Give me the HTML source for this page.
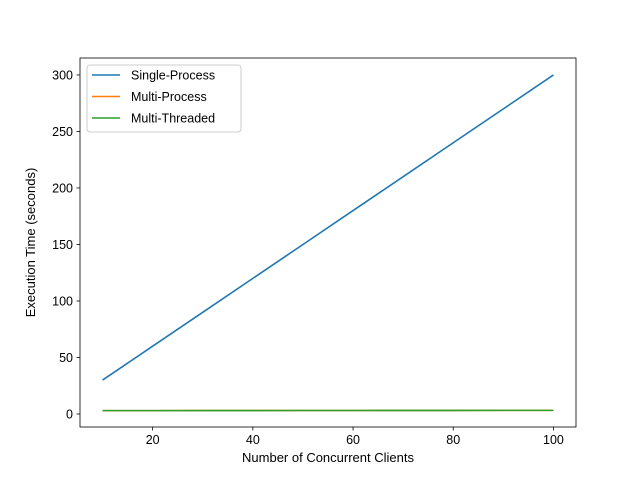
<!DOCTYPE html>
<html><head><meta charset="utf-8"><style>
body{margin:0;background:#fff}
svg{display:block;font-family:"Liberation Sans","DejaVu Sans",sans-serif}
</style></head><body>
<svg id="chart" width="640" height="480" xmlns="http://www.w3.org/2000/svg">
<rect width="640" height="480" fill="#fff"/>
<g id="plot"></g>
</svg>
<script>
const clients = [10,20,30,40,50,60,70,80,90,100];
const singleProcess = [30,60,90,120,150,180,210,240,270,300];
const multiProcess = [3.0,3.0,3.05,3.05,3.1,3.1,3.15,3.15,3.2,3.2];
const multiThreaded = [3.0,3.0,3.05,3.05,3.1,3.1,3.15,3.15,3.2,3.2];
const xTicks = [20,40,60,80,100];
const yTicks = [0,50,100,150,200,250,300];
const seriesNames = ["Single-Process","Multi-Process","Multi-Threaded"];

const NS="http://www.w3.org/2000/svg";
const L=80,R=576,T=58,B=427;
const xMin=5.5,xMax=104.5,yMin=-11.5,yMax=315.0;
const xs=v=>L+(v-xMin)/(xMax-xMin)*(R-L);
const ys=v=>B-(v-yMin)/(yMax-yMin)*(B-T);
const g=document.getElementById('plot');
function mk(tag,attrs,parent){const e=document.createElementNS(NS,tag);for(const k in attrs)e.setAttribute(k,attrs[k]);(parent||g).appendChild(e);return e;}

const series=[[singleProcess,"#1f77b4"],[multiProcess,"#ff7f0e"],[multiThreaded,"#2ca02c"]];
series.forEach(([d,c],i)=>{
  const p=mk('polyline',{points:clients.map((x,j)=>xs(x)+','+ys(d[j])).join(' '),fill:'none',stroke:c,'stroke-width':1.6});
  
  
});
const frame=mk('rect',{x:L,y:T,width:R-L,height:B-T,fill:'none',stroke:'#000','stroke-width':0.8});



xTicks.forEach(v=>{
  const x=xs(v);
  mk('line',{x1:x,x2:x,y1:B,y2:B+3.5,stroke:'#000','stroke-width':0.8});
  const t=mk('text',{x:x,y:B+17,'text-anchor':'middle','font-size':12.5});t.textContent=v;
  
  
});
yTicks.forEach(v=>{
  const y=ys(v);
  mk('line',{x1:L-3.5,x2:L,y1:y,y2:y,stroke:'#000','stroke-width':0.8});
  const t=mk('text',{x:L-7,y:y+4.5,'text-anchor':'end','font-size':12.5});t.textContent=v;
  
  
});
const xt=mk('text',{x:(L+R)/2,y:462,'text-anchor':'middle','font-size':13});xt.textContent='Number of Concurrent Clients';


const yt=mk('text',{x:0,y:0,'text-anchor':'middle','font-size':13,transform:`translate(35,${(T+B)/2}) rotate(-90)`});yt.textContent='Execution Time (seconds)';



const lg=mk('g',{});


mk('rect',{x:87,y:65,width:154,height:67,rx:3,fill:'#fff',stroke:'#ccc','stroke-width':1},lg);
series.forEach(([d,c],i)=>{
  const y=75+i*21.5;
  mk('line',{x1:92,x2:120,y1:y,y2:y,stroke:c,'stroke-width':1.5},lg);
  const t=mk('text',{x:131,y:y+4.5,'font-size':12.5},lg);t.textContent=seriesNames[i];
  
  
});
</script>
</body></html>
